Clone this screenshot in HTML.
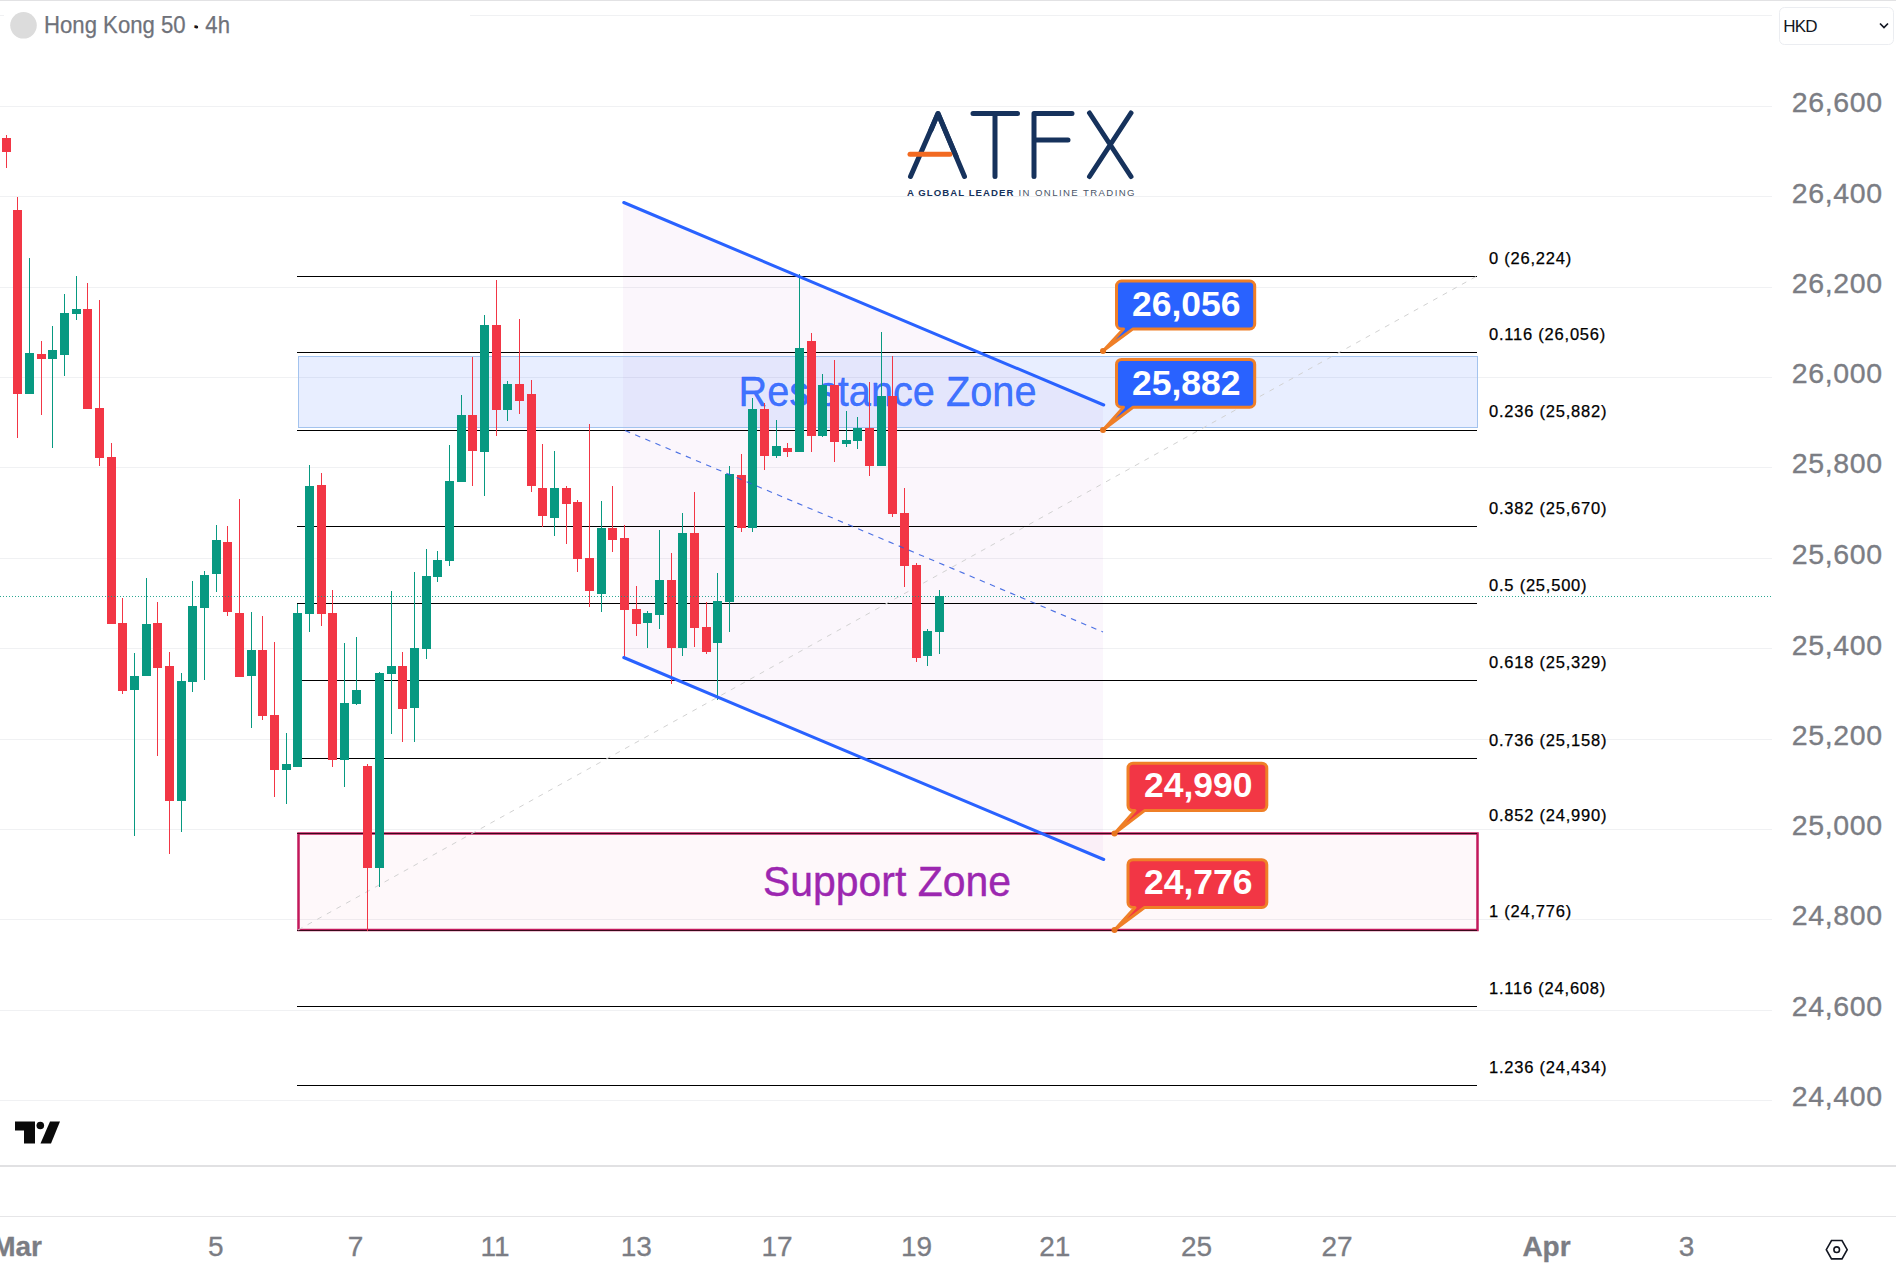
<!DOCTYPE html><html><head><meta charset="utf-8"><title>Hong Kong 50</title>
<style>html,body{margin:0;padding:0;background:#fff}body{width:1896px;height:1281px;overflow:hidden;font-family:"Liberation Sans",sans-serif}svg{display:block}text{font-family:"Liberation Sans",sans-serif}</style></head><body>
<svg width="1896" height="1281" viewBox="0 0 1896 1281">
<rect width="1896" height="1281" fill="#fff"/>
<rect x="0" y="0" width="1896" height="1" fill="#e2e2e4"/>
<g fill="#f0f1f3" shape-rendering="crispEdges">
<rect x="0" y="15" width="1772" height="1"/>
<rect x="0" y="106" width="1772" height="1"/>
<rect x="0" y="196" width="1772" height="1"/>
<rect x="0" y="287" width="1772" height="1"/>
<rect x="0" y="377" width="1772" height="1"/>
<rect x="0" y="467" width="1772" height="1"/>
<rect x="0" y="558" width="1772" height="1"/>
<rect x="0" y="648" width="1772" height="1"/>
<rect x="0" y="739" width="1772" height="1"/>
<rect x="0" y="829" width="1772" height="1"/>
<rect x="0" y="919" width="1772" height="1"/>
<rect x="0" y="1010" width="1772" height="1"/>
<rect x="0" y="1100" width="1772" height="1"/>
</g>
<polygon points="623,202.5 1103,405 1103,859.5 623,657.5" fill="#9c27b0" fill-opacity="0.045"/>
<rect x="298.5" y="356.5" width="1179" height="71" fill="#2962ff" fill-opacity="0.105" stroke="#a3c3ee" stroke-width="1"/>
<rect x="298" y="834" width="1180" height="96" fill="#e91e63" fill-opacity="0.03"/>
<g fill="#000" shape-rendering="crispEdges">
<rect x="297" y="276" width="1180" height="1"/>
<rect x="297" y="352" width="1180" height="1"/>
<rect x="297" y="430" width="1180" height="1"/>
<rect x="297" y="526" width="1180" height="1"/>
<rect x="297" y="603" width="1180" height="1"/>
<rect x="297" y="680" width="1180" height="1"/>
<rect x="297" y="758" width="1180" height="1"/>
<rect x="297" y="833" width="1180" height="1"/>
<rect x="297" y="930" width="1180" height="1"/>
<rect x="297" y="1006" width="1180" height="1"/>
<rect x="297" y="1085" width="1180" height="1"/>
</g>
<rect x="298.5" y="833.5" width="1179" height="96.5" fill="none" stroke="#c2185b" stroke-width="2.5"/>
<rect x="297" y="833" width="1180" height="1" fill="#3a0a1c"/><rect x="297" y="930" width="1180" height="1" fill="#3a0a1c"/>
<line x1="298" y1="930" x2="1477" y2="276" stroke="#d2d2d2" stroke-width="1" stroke-dasharray="5 6"/>
<text x="738.5" y="405.5" font-size="43" textLength="298" lengthAdjust="spacingAndGlyphs" fill="#2962ff" fill-opacity="0.9" stroke="#2962ff" stroke-opacity="0.9" stroke-width="0.4">Resistance Zone</text>
<text x="763" y="895.5" font-size="42.5" textLength="248" lengthAdjust="spacingAndGlyphs" fill="#9c27b0" stroke="#9c27b0" stroke-width="0.4">Support Zone</text>
<g shape-rendering="crispEdges">
<rect x="6" y="135" width="1" height="33" fill="#f23645"/>
<rect x="2" y="138" width="9" height="14" fill="#f23645"/>
<rect x="17" y="197" width="1" height="241" fill="#f23645"/>
<rect x="13" y="210" width="9" height="184" fill="#f23645"/>
<rect x="29" y="258" width="1" height="136" fill="#089981"/>
<rect x="25" y="353" width="9" height="41" fill="#089981"/>
<rect x="41" y="341" width="1" height="74" fill="#f23645"/>
<rect x="37" y="354" width="9" height="5" fill="#f23645"/>
<rect x="52" y="326" width="1" height="122" fill="#089981"/>
<rect x="48" y="350" width="9" height="9" fill="#089981"/>
<rect x="64" y="294" width="1" height="82" fill="#089981"/>
<rect x="60" y="313" width="9" height="42" fill="#089981"/>
<rect x="76" y="276" width="1" height="44" fill="#089981"/>
<rect x="72" y="309" width="9" height="5" fill="#089981"/>
<rect x="87" y="283" width="1" height="126" fill="#f23645"/>
<rect x="83" y="309" width="9" height="100" fill="#f23645"/>
<rect x="99" y="300" width="1" height="166" fill="#f23645"/>
<rect x="95" y="408" width="9" height="50" fill="#f23645"/>
<rect x="111" y="443" width="1" height="181" fill="#f23645"/>
<rect x="107" y="457" width="9" height="167" fill="#f23645"/>
<rect x="122" y="598" width="1" height="96" fill="#f23645"/>
<rect x="118" y="623" width="9" height="68" fill="#f23645"/>
<rect x="134" y="653" width="1" height="183" fill="#089981"/>
<rect x="130" y="676" width="9" height="14" fill="#089981"/>
<rect x="146" y="578" width="1" height="98" fill="#089981"/>
<rect x="142" y="624" width="9" height="52" fill="#089981"/>
<rect x="157" y="602" width="1" height="154" fill="#f23645"/>
<rect x="153" y="623" width="9" height="45" fill="#f23645"/>
<rect x="169" y="652" width="1" height="202" fill="#f23645"/>
<rect x="165" y="666" width="9" height="135" fill="#f23645"/>
<rect x="181" y="673" width="1" height="159" fill="#089981"/>
<rect x="177" y="681" width="9" height="120" fill="#089981"/>
<rect x="192" y="581" width="1" height="111" fill="#089981"/>
<rect x="188" y="606" width="9" height="76" fill="#089981"/>
<rect x="204" y="571" width="1" height="109" fill="#089981"/>
<rect x="200" y="575" width="9" height="33" fill="#089981"/>
<rect x="216" y="525" width="1" height="67" fill="#089981"/>
<rect x="212" y="540" width="9" height="34" fill="#089981"/>
<rect x="227" y="526" width="1" height="90" fill="#f23645"/>
<rect x="223" y="542" width="9" height="70" fill="#f23645"/>
<rect x="239" y="499" width="1" height="178" fill="#f23645"/>
<rect x="235" y="613" width="9" height="64" fill="#f23645"/>
<rect x="251" y="612" width="1" height="116" fill="#089981"/>
<rect x="247" y="650" width="9" height="26" fill="#089981"/>
<rect x="262" y="616" width="1" height="104" fill="#f23645"/>
<rect x="258" y="650" width="9" height="66" fill="#f23645"/>
<rect x="274" y="642" width="1" height="155" fill="#f23645"/>
<rect x="270" y="715" width="9" height="55" fill="#f23645"/>
<rect x="286" y="733" width="1" height="71" fill="#089981"/>
<rect x="282" y="764" width="9" height="6" fill="#089981"/>
<rect x="297" y="604" width="1" height="163" fill="#089981"/>
<rect x="293" y="613" width="9" height="154" fill="#089981"/>
<rect x="309" y="465" width="1" height="167" fill="#089981"/>
<rect x="305" y="486" width="9" height="128" fill="#089981"/>
<rect x="321" y="473" width="1" height="153" fill="#f23645"/>
<rect x="317" y="485" width="9" height="129" fill="#f23645"/>
<rect x="332" y="590" width="1" height="177" fill="#f23645"/>
<rect x="328" y="613" width="9" height="147" fill="#f23645"/>
<rect x="344" y="643" width="1" height="144" fill="#089981"/>
<rect x="340" y="703" width="9" height="57" fill="#089981"/>
<rect x="356" y="637" width="1" height="68" fill="#089981"/>
<rect x="352" y="690" width="9" height="14" fill="#089981"/>
<rect x="367" y="764" width="1" height="167" fill="#f23645"/>
<rect x="363" y="766" width="9" height="102" fill="#f23645"/>
<rect x="379" y="672" width="1" height="215" fill="#089981"/>
<rect x="375" y="673" width="9" height="195" fill="#089981"/>
<rect x="391" y="591" width="1" height="143" fill="#089981"/>
<rect x="387" y="666" width="9" height="8" fill="#089981"/>
<rect x="402" y="652" width="1" height="90" fill="#f23645"/>
<rect x="398" y="666" width="9" height="43" fill="#f23645"/>
<rect x="414" y="572" width="1" height="170" fill="#089981"/>
<rect x="410" y="648" width="9" height="60" fill="#089981"/>
<rect x="426" y="549" width="1" height="110" fill="#089981"/>
<rect x="422" y="576" width="9" height="73" fill="#089981"/>
<rect x="437" y="551" width="1" height="31" fill="#089981"/>
<rect x="433" y="560" width="9" height="17" fill="#089981"/>
<rect x="449" y="445" width="1" height="121" fill="#089981"/>
<rect x="445" y="481" width="9" height="80" fill="#089981"/>
<rect x="461" y="395" width="1" height="87" fill="#089981"/>
<rect x="457" y="415" width="9" height="67" fill="#089981"/>
<rect x="472" y="357" width="1" height="129" fill="#f23645"/>
<rect x="468" y="415" width="9" height="36" fill="#f23645"/>
<rect x="484" y="315" width="1" height="181" fill="#089981"/>
<rect x="480" y="325" width="9" height="127" fill="#089981"/>
<rect x="496" y="280" width="1" height="156" fill="#f23645"/>
<rect x="492" y="325" width="9" height="85" fill="#f23645"/>
<rect x="507" y="381" width="1" height="40" fill="#089981"/>
<rect x="503" y="384" width="9" height="26" fill="#089981"/>
<rect x="519" y="319" width="1" height="95" fill="#f23645"/>
<rect x="515" y="384" width="9" height="17" fill="#f23645"/>
<rect x="531" y="380" width="1" height="112" fill="#f23645"/>
<rect x="527" y="394" width="9" height="92" fill="#f23645"/>
<rect x="542" y="444" width="1" height="83" fill="#f23645"/>
<rect x="538" y="488" width="9" height="28" fill="#f23645"/>
<rect x="554" y="451" width="1" height="85" fill="#089981"/>
<rect x="550" y="488" width="9" height="30" fill="#089981"/>
<rect x="566" y="486" width="1" height="58" fill="#f23645"/>
<rect x="562" y="488" width="9" height="16" fill="#f23645"/>
<rect x="577" y="500" width="1" height="72" fill="#f23645"/>
<rect x="573" y="502" width="9" height="57" fill="#f23645"/>
<rect x="589" y="424" width="1" height="183" fill="#f23645"/>
<rect x="585" y="558" width="9" height="33" fill="#f23645"/>
<rect x="601" y="501" width="1" height="111" fill="#089981"/>
<rect x="597" y="528" width="9" height="66" fill="#089981"/>
<rect x="612" y="486" width="1" height="66" fill="#f23645"/>
<rect x="608" y="528" width="9" height="12" fill="#f23645"/>
<rect x="624" y="525" width="1" height="133" fill="#f23645"/>
<rect x="620" y="538" width="9" height="72" fill="#f23645"/>
<rect x="636" y="586" width="1" height="50" fill="#f23645"/>
<rect x="632" y="609" width="9" height="15" fill="#f23645"/>
<rect x="647" y="611" width="1" height="37" fill="#089981"/>
<rect x="643" y="613" width="9" height="10" fill="#089981"/>
<rect x="659" y="530" width="1" height="99" fill="#089981"/>
<rect x="655" y="580" width="9" height="35" fill="#089981"/>
<rect x="671" y="553" width="1" height="131" fill="#f23645"/>
<rect x="667" y="580" width="9" height="68" fill="#f23645"/>
<rect x="682" y="513" width="1" height="143" fill="#089981"/>
<rect x="678" y="533" width="9" height="115" fill="#089981"/>
<rect x="694" y="492" width="1" height="155" fill="#f23645"/>
<rect x="690" y="533" width="9" height="95" fill="#f23645"/>
<rect x="706" y="602" width="1" height="52" fill="#f23645"/>
<rect x="702" y="627" width="9" height="25" fill="#f23645"/>
<rect x="717" y="573" width="1" height="127" fill="#089981"/>
<rect x="713" y="601" width="9" height="42" fill="#089981"/>
<rect x="729" y="466" width="1" height="166" fill="#089981"/>
<rect x="725" y="474" width="9" height="128" fill="#089981"/>
<rect x="741" y="454" width="1" height="78" fill="#f23645"/>
<rect x="737" y="475" width="9" height="53" fill="#f23645"/>
<rect x="752" y="398" width="1" height="134" fill="#089981"/>
<rect x="748" y="409" width="9" height="119" fill="#089981"/>
<rect x="764" y="403" width="1" height="67" fill="#f23645"/>
<rect x="760" y="409" width="9" height="47" fill="#f23645"/>
<rect x="776" y="420" width="1" height="38" fill="#089981"/>
<rect x="772" y="446" width="9" height="10" fill="#089981"/>
<rect x="787" y="443" width="1" height="14" fill="#f23645"/>
<rect x="783" y="448" width="9" height="4" fill="#f23645"/>
<rect x="799" y="274" width="1" height="178" fill="#089981"/>
<rect x="795" y="348" width="9" height="104" fill="#089981"/>
<rect x="811" y="333" width="1" height="119" fill="#f23645"/>
<rect x="807" y="341" width="9" height="95" fill="#f23645"/>
<rect x="822" y="374" width="1" height="63" fill="#089981"/>
<rect x="818" y="385" width="9" height="51" fill="#089981"/>
<rect x="834" y="360" width="1" height="102" fill="#f23645"/>
<rect x="830" y="385" width="9" height="57" fill="#f23645"/>
<rect x="846" y="411" width="1" height="36" fill="#089981"/>
<rect x="842" y="440" width="9" height="4" fill="#089981"/>
<rect x="857" y="417" width="1" height="32" fill="#089981"/>
<rect x="853" y="428" width="9" height="13" fill="#089981"/>
<rect x="869" y="382" width="1" height="94" fill="#f23645"/>
<rect x="865" y="428" width="9" height="38" fill="#f23645"/>
<rect x="881" y="332" width="1" height="134" fill="#089981"/>
<rect x="877" y="396" width="9" height="70" fill="#089981"/>
<rect x="892" y="356" width="1" height="161" fill="#f23645"/>
<rect x="888" y="396" width="9" height="118" fill="#f23645"/>
<rect x="904" y="488" width="1" height="99" fill="#f23645"/>
<rect x="900" y="513" width="9" height="53" fill="#f23645"/>
<rect x="916" y="563" width="1" height="99" fill="#f23645"/>
<rect x="912" y="565" width="9" height="93" fill="#f23645"/>
<rect x="927" y="629" width="1" height="37" fill="#089981"/>
<rect x="923" y="631" width="9" height="25" fill="#089981"/>
<rect x="939" y="590" width="1" height="64" fill="#089981"/>
<rect x="935" y="596" width="9" height="36" fill="#089981"/>
</g>
<line x1="0" y1="596.5" x2="1772" y2="596.5" stroke="#089981" stroke-width="1" stroke-dasharray="1 2" opacity="0.85"/>
<line x1="623.75" y1="202.5" x2="1103.75" y2="405" stroke="#2962ff" stroke-width="3" stroke-linecap="round"/>
<line x1="623.75" y1="657.5" x2="1103.75" y2="859.5" stroke="#2962ff" stroke-width="3" stroke-linecap="round"/>
<line x1="625" y1="430.5" x2="1103" y2="632" stroke="#2f5be0" stroke-width="1.15" stroke-dasharray="5.5 5.5" opacity="0.85"/>
<g font-size="16.5" letter-spacing="0.78" fill="#000" stroke="#000" stroke-width="0.25">
<text x="1489" y="263.65">0 (26,224)</text>
<text x="1489" y="339.90">0.116 (26,056)</text>
<text x="1489" y="417.40">0.236 (25,882)</text>
<text x="1489" y="513.65">0.382 (25,670)</text>
<text x="1489" y="590.65">0.5 (25,500)</text>
<text x="1489" y="667.65">0.618 (25,329)</text>
<text x="1489" y="745.65">0.736 (25,158)</text>
<text x="1489" y="821.15">0.852 (24,990)</text>
<text x="1489" y="917.40">1 (24,776)</text>
<text x="1489" y="993.65">1.116 (24,608)</text>
<text x="1489" y="1072.65">1.236 (24,434)</text>
</g>
<path d="M1121.5,281.1 H1249.7 A5,5 0 0 1 1254.7,286.1 V323.9 A5,5 0 0 1 1249.7,328.9 H1133.0 L1103.5,350.5 L1123.5,328.9 H1121.5 A5,5 0 0 1 1116.5,323.9 V286.1 A5,5 0 0 1 1121.5,281.1 Z" fill="#2962ff" stroke="#ef7f27" stroke-width="3" stroke-linejoin="round"/>
<circle cx="1103.0" cy="351.0" r="3" fill="#e8761f"/>
<text x="1186.2" y="316.2" font-size="35.5" font-weight="bold" fill="#fff" text-anchor="middle">26,056</text>
<path d="M1121.5,359.4 H1249.7 A5,5 0 0 1 1254.7,364.4 V402.2 A5,5 0 0 1 1249.7,407.2 H1133.0 L1103.5,429.5 L1123.5,407.2 H1121.5 A5,5 0 0 1 1116.5,402.2 V364.4 A5,5 0 0 1 1121.5,359.4 Z" fill="#2962ff" stroke="#ef7f27" stroke-width="3" stroke-linejoin="round"/>
<circle cx="1103.0" cy="430.0" r="3" fill="#e8761f"/>
<text x="1186.2" y="394.5" font-size="35.5" font-weight="bold" fill="#fff" text-anchor="middle">25,882</text>
<path d="M1133,763.2 H1261.8 A5,5 0 0 1 1266.8,768.2 V805.6 A5,5 0 0 1 1261.8,810.6 H1144.5 L1115,833 L1135,810.6 H1133 A5,5 0 0 1 1128,805.6 V768.2 A5,5 0 0 1 1133,763.2 Z" fill="#f23645" stroke="#ef7f27" stroke-width="3" stroke-linejoin="round"/>
<circle cx="1114.5" cy="833.5" r="3" fill="#e8761f"/>
<text x="1198.2" y="796.8" font-size="35.5" font-weight="bold" fill="#fff" text-anchor="middle">24,990</text>
<path d="M1133,859.7 H1261.8 A5,5 0 0 1 1266.8,864.7 V902.5 A5,5 0 0 1 1261.8,907.5 H1144.5 L1115,929.5 L1135,907.5 H1133 A5,5 0 0 1 1128,902.5 V864.7 A5,5 0 0 1 1133,859.7 Z" fill="#f23645" stroke="#ef7f27" stroke-width="3" stroke-linejoin="round"/>
<circle cx="1114.5" cy="930.0" r="3" fill="#e8761f"/>
<text x="1198.2" y="893.8" font-size="35.5" font-weight="bold" fill="#fff" text-anchor="middle">24,776</text>
<g font-size="28.5" letter-spacing="0.65" fill="#7b7d84" stroke="#7b7d84" stroke-width="0.35">
<text x="1791.8" y="112.15">26,600</text>
<text x="1791.8" y="202.65">26,400</text>
<text x="1791.8" y="293.40">26,200</text>
<text x="1791.8" y="383.40">26,000</text>
<text x="1791.8" y="473.40">25,800</text>
<text x="1791.8" y="564.15">25,600</text>
<text x="1791.8" y="654.65">25,400</text>
<text x="1791.8" y="745.15">25,200</text>
<text x="1791.8" y="835.40">25,000</text>
<text x="1791.8" y="925.40">24,800</text>
<text x="1791.8" y="1015.90">24,600</text>
<text x="1791.8" y="1106.15">24,400</text>
</g>
<rect x="1779.5" y="7.5" width="114" height="37" rx="5" fill="#fff" stroke="#ebedf1" stroke-width="1"/>
<text x="1783.3" y="32" font-size="17" letter-spacing="-0.8" fill="#131722">HKD</text>
<path d="M1880,23.5 l4,4 l4,-4" fill="none" stroke="#131722" stroke-width="1.7"/>
<rect x="4" y="6" width="466" height="40" fill="#fff"/>
<circle cx="23.5" cy="25.3" r="13.3" fill="#dcdcdc"/>
<text x="44" y="33.4" font-size="23.8" textLength="186" lengthAdjust="spacingAndGlyphs" fill="#6f727a" stroke="#6f727a" stroke-width="0.25">Hong Kong 50 <tspan fill="#131722" stroke="none">·</tspan> 4h</text>
<circle cx="196.6" cy="27" r="1.6" fill="#131722"/>
<g fill="none" stroke="#16325c" stroke-width="5" stroke-linecap="round" stroke-linejoin="round">
<path d="M910.5,176.5 L938,113.5 L964.5,176.5"/>
<path d="M973,113.5 H1017.5 M995,113.5 V176.5"/>
<path d="M1034,176.5 V113.5 H1072 M1034,140 H1068"/>
<path d="M1089.5,113 L1131,176.5 M1131,113 L1089.5,176.5"/>
</g>
<line x1="910" y1="154.3" x2="950" y2="154.3" stroke="#f26a21" stroke-width="5" stroke-linecap="round"/>
<path d="M931,130 L938,113.5 L956,156" fill="none" stroke="#16325c" stroke-width="5" stroke-linecap="round" stroke-linejoin="round"/>
<text x="907" y="195.9" font-size="9.6" letter-spacing="1.05" fill="#16325c"><tspan font-weight="bold">A GLOBAL LEADER</tspan><tspan fill="#4a5568" letter-spacing="1.4"> IN ONLINE TRADING</tspan></text>
<g fill="#0a0a0a"><path d="M15,1121.5 H35 V1143.5 H24 V1130.5 H15 Z"/><circle cx="40.3" cy="1125.5" r="3.8"/><path d="M50,1121.5 H60 L51,1143.5 H40.5 Z"/></g>
<rect x="0" y="1165" width="1896" height="2" fill="#e1e1e3"/>
<rect x="0" y="1216" width="1896" height="1" fill="#e6e6e8"/>
<g font-size="28" fill="#7b7d84" stroke="#7b7d84" stroke-width="0.3" text-anchor="middle">
<text x="215.75" y="1255.5">5</text>
<text x="355.6" y="1255.5">7</text>
<text x="495" y="1255.5">11</text>
<text x="636.25" y="1255.5">13</text>
<text x="777" y="1255.5">17</text>
<text x="916.5" y="1255.5">19</text>
<text x="1054.75" y="1255.5">21</text>
<text x="1196.5" y="1255.5">25</text>
<text x="1337" y="1255.5">27</text>
<text x="1686.5" y="1255.5">3</text>
<text x="1546.5" y="1255.5" font-weight="bold">Apr</text>
<text x="42" y="1255.5" font-weight="bold" text-anchor="end">Mar</text>
</g>
<g fill="none" stroke="#131722" stroke-width="1.6"><path d="M1831.5,1240.5 h10.5 l5.2,9.2 l-5.2,9.2 h-10.5 l-5.2,-9.2 z"/><circle cx="1836.7" cy="1249.7" r="2.8"/></g>
</svg></body></html>
